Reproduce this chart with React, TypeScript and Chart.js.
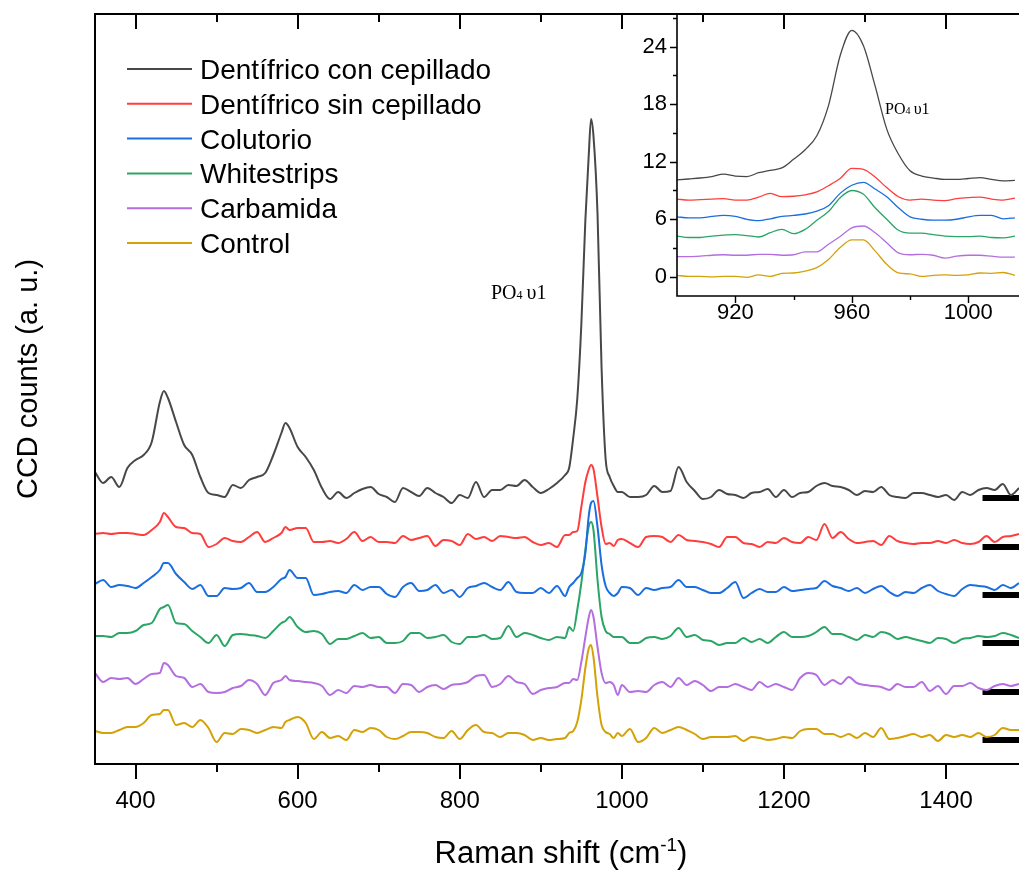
import React, { useEffect, useRef } from 'react';
import { Chart, registerables } from 'chart.js';

Chart.register(...registerables);

const SANS = '"Liberation Sans", Arial, sans-serif';
const SERIF = '"Liberation Serif", "Times New Roman", serif';

// ---------- main spectrum data (Raman shift, cm-1) ----------
const ramanShift = [350,360,370,380,390,400,410,420,430,435,440,450,460,470,480,490,500,510,520,530,540,550,560,570,580,585,590,600,610,620,630,640,650,660,670,680,690,700,710,720,730,740,750,760,770,780,790,800,810,820,830,840,850,860,870,880,890,900,910,920,930,935,940,945,950,955,959,962,965,970,975,980,985,990,995,1000,1010,1020,1030,1040,1050,1060,1070,1080,1090,1100,1110,1120,1130,1140,1150,1160,1170,1180,1190,1200,1210,1220,1230,1240,1250,1260,1270,1280,1290,1300,1310,1320,1330,1340,1350,1360,1370,1380,1390,1400,1410,1420,1430,1440,1450,1460,1470,1480,1490];

const dentConCepillado = [292,281,287,277,296,304,309,322,362,373,366,342,319,309,287,271,269,267,279,276,284,287,291,309,331,341,336,317,307,294,276,265,272,266,271,275,277,270,267,262,276,272,268,276,271,267,261,269,266,282,267,274,274,279,278,284,277,271,275,281,289,296,326,365,439,544,606,645,628,550,396,305,287,278,272,272,267,267,269,278,272,273,297,282,273,265,267,274,270,269,266,271,272,275,267,274,267,271,272,278,281,278,277,274,269,273,272,277,269,267,266,271,271,269,267,269,264,272,269,274,276,274,280,269,276];
const dentSinCepillado = [230,231,230,231,231,230,229,234,242,251,247,237,236,231,230,217,220,226,223,222,227,232,222,226,231,237,234,236,236,222,222,223,221,225,232,223,227,222,222,221,228,224,226,228,218,224,223,219,230,225,227,223,228,227,226,227,222,219,221,217,229,229,232,233,257,282,294,299,295,267,237,220,221,218,224,225,221,217,227,228,227,222,229,224,223,222,220,217,227,227,221,220,217,222,221,226,222,221,227,224,240,226,232,225,221,222,223,219,228,223,221,220,221,221,223,221,224,221,220,222,228,222,227,228,230];
const colutorio = [180,184,177,179,178,176,181,187,194,201,201,190,182,175,179,168,168,176,175,176,181,172,172,177,185,187,194,186,186,169,170,172,173,171,179,174,177,177,170,167,177,181,173,174,179,171,174,167,176,178,181,177,174,182,172,171,171,176,171,178,168,177,181,186,191,211,247,261,263,237,199,178,171,168,171,177,176,169,176,174,176,177,184,177,177,174,171,171,176,182,166,171,175,172,172,177,173,174,175,176,183,178,176,173,176,171,175,178,172,168,172,171,176,179,173,170,168,175,179,178,177,174,179,176,181];
const whitestrips = [128,128,127,131,131,133,139,141,155,157,159,141,140,133,127,121,129,118,129,130,129,128,126,133,141,143,147,137,132,133,130,120,125,125,128,131,126,127,121,121,123,131,131,126,127,129,122,120,127,127,129,125,126,138,127,131,129,126,124,127,126,137,133,154,181,214,237,242,234,184,147,133,130,127,127,127,121,121,126,127,125,128,136,127,129,124,123,119,121,121,126,122,125,121,127,132,127,127,128,132,137,130,130,127,124,129,127,132,130,125,127,125,123,121,126,125,121,125,126,128,127,128,131,129,126];
const carbamida = [91,82,86,85,86,80,85,90,91,101,99,88,86,77,80,72,71,72,76,78,84,80,69,81,84,88,84,83,82,81,78,69,74,71,78,77,79,77,77,71,80,79,72,77,79,75,79,80,82,88,89,77,80,88,82,80,70,74,76,77,81,81,85,84,102,127,146,154,147,117,91,81,82,79,69,79,72,73,72,79,82,77,86,79,83,79,73,77,77,80,77,74,82,77,80,77,74,86,91,89,79,84,80,87,81,79,78,77,74,80,77,77,82,73,78,70,78,78,81,76,74,78,80,78,80];
const control = [33,31,31,34,37,37,41,49,50,54,54,39,41,37,44,36,22,31,30,35,34,31,34,37,36,42,44,47,41,25,32,26,28,24,34,32,36,34,27,25,28,32,32,31,27,26,33,25,34,39,32,31,27,31,31,29,24,26,24,25,26,31,33,42,64,96,115,119,107,67,39,32,30,26,31,28,35,22,26,36,31,34,37,34,30,25,27,27,27,28,23,27,26,24,25,27,26,33,35,35,30,30,27,30,26,31,27,36,25,26,28,30,27,29,23,29,27,29,27,31,27,29,36,34,34];

const seriesNames = ['Dentífrico con cepillado', 'Dentífrico sin cepillado', 'Colutorio', 'Whitestrips', 'Carbamida', 'Control'];
const seriesColors = ['#484848', '#ff3d3d', '#1a6ee0', '#2aa565', '#b36ee0', '#d4a106'];
const mainSeries = [dentConCepillado, dentSinCepillado, colutorio, whitestrips, carbamida, control];

// baseline marks at the right edge
const baselineLevels = [266, 217, 169, 121, 72, 24];
const baselineSpan = [1445, 1500];

const mainMajorTicks = [400, 600, 800, 1000, 1200, 1400];
const mainMinorTicks = [500, 700, 900, 1100, 1300];

// ---------- inset data ----------
const insetShift = [900,904,908,912,916,920,924,928,932,936,940,944,948,952,956,960,964,968,972,976,980,984,988,992,996,1000,1004,1008,1012,1016];
const insetDentCon = [10.1,10.2,10.3,10.45,10.7,10.5,10.45,10.85,11.1,11.35,12.25,13.25,14.7,17.85,23.05,25.7,24.1,19.9,15.4,12.8,11.05,10.5,10.3,10.15,10.15,10.25,10.35,10.15,10.0,10.05];
const insetDentSin = [8.1,8.0,8.05,8.1,8.15,8.0,8.0,8.3,8.7,8.35,8.4,8.55,8.85,9.5,10.25,11.3,11.2,10.4,9.3,8.35,8.0,8.1,8.0,7.95,8.15,8.25,8.3,8.1,8.0,8.2];
const insetColutorio = [6.25,6.15,6.15,6.3,6.4,6.3,6.0,5.85,6.05,6.3,6.4,6.55,6.85,7.4,8.7,9.55,9.85,9.15,8.35,7.2,6.25,6.0,5.9,5.9,6.0,6.25,6.4,6.4,6.05,6.15];
const insetWhitestrips = [4.25,4.1,4.1,4.25,4.35,4.4,4.3,4.15,4.6,4.95,4.5,4.95,5.9,6.8,8.25,9.0,8.6,7.2,6.0,4.85,4.55,4.55,4.4,4.25,4.2,4.2,4.25,4.1,4.05,4.25];
const insetCarbamida = [2.1,2.1,2.15,2.25,2.3,2.25,2.25,2.35,2.35,2.25,2.3,2.6,2.6,3.4,4.2,5.1,5.3,4.6,3.55,2.5,2.3,2.35,2.25,1.95,2.15,2.25,2.25,2.15,2.05,2.05];
const insetControl = [0.15,0.05,0.05,0.0,0.05,0.05,-0.05,0.2,0.05,0.35,0.4,0.6,0.95,1.8,3.05,3.85,3.85,2.7,1.3,0.4,0.3,0.05,0.15,0.2,0.15,0.2,0.4,0.35,0.45,0.15];
const insetSeries = [insetDentCon, insetDentSin, insetColutorio, insetWhitestrips, insetCarbamida, insetControl];

const insetYMajor = [0, 6, 12, 18, 24];
const insetYMinor = [3, 9, 15, 21, 27];
const insetXMajor = [920, 960, 1000];
const insetXMinor = [940, 980];

function drawPO4(ctx: CanvasRenderingContext2D, x: number, y: number, size: number) {
  ctx.fillStyle = '#000';
  ctx.textAlign = 'left';
  ctx.textBaseline = 'alphabetic';
  ctx.font = `${size}px ${SERIF}`;
  ctx.fillText('PO', x, y);
  let cx = x + ctx.measureText('PO').width;
  ctx.font = `${Math.round(size * 0.62)}px ${SERIF}`;
  ctx.fillText('4', cx, y);
  cx += ctx.measureText('4').width + size * 0.2;
  ctx.font = `${size}px ${SERIF}`;
  ctx.fillText('υ1', cx, y);
}

const mainDecor = {
  id: 'mainDecor',
  afterDatasetsDraw(chart: any) {
    const { ctx, chartArea: a, scales } = chart;
    const x = scales.x;
    ctx.save();
    ctx.strokeStyle = '#000';
    ctx.lineWidth = 2;
    ctx.lineCap = 'butt';
    ctx.beginPath();
    ctx.moveTo(a.left - 1, a.top);
    ctx.lineTo(a.right, a.top);
    ctx.moveTo(a.left, a.top);
    ctx.lineTo(a.left, a.bottom + 1);
    ctx.moveTo(a.left - 1, a.bottom);
    ctx.lineTo(a.right, a.bottom);
    ctx.stroke();
    ctx.beginPath();
    for (const v of mainMajorTicks) {
      const px = Math.round(x.getPixelForValue(v));
      ctx.moveTo(px, a.top);
      ctx.lineTo(px, a.top + 15);
      ctx.moveTo(px, a.bottom);
      ctx.lineTo(px, a.bottom + 15);
    }
    for (const v of mainMinorTicks) {
      const px = Math.round(x.getPixelForValue(v));
      ctx.moveTo(px, a.top);
      ctx.lineTo(px, a.top + 8);
      ctx.moveTo(px, a.bottom);
      ctx.lineTo(px, a.bottom + 8);
    }
    ctx.stroke();

    // legend
    seriesNames.forEach((name, i) => {
      const ly = 69 + i * 34.8;
      ctx.strokeStyle = seriesColors[i];
      ctx.lineWidth = 2;
      ctx.beginPath();
      ctx.moveTo(127, ly);
      ctx.lineTo(192, ly);
      ctx.stroke();
      ctx.fillStyle = '#000';
      ctx.font = `28px ${SANS}`;
      ctx.textAlign = 'left';
      ctx.textBaseline = 'alphabetic';
      ctx.fillText(name, 200, ly + 10);
    });

    // x axis title with superscript
    ctx.fillStyle = '#000';
    ctx.textBaseline = 'alphabetic';
    ctx.textAlign = 'left';
    const big = `31px ${SANS}`;
    const small = `19px ${SANS}`;
    ctx.font = big;
    const w1 = ctx.measureText('Raman shift (cm').width;
    const w3 = ctx.measureText(')').width;
    ctx.font = small;
    const w2 = ctx.measureText('-1').width;
    const total = w1 + w2 + w3;
    let tx = 561 - total / 2;
    const ty = 863;
    ctx.font = big;
    ctx.fillText('Raman shift (cm', tx, ty);
    tx += w1;
    ctx.font = small;
    ctx.fillText('-1', tx, ty - 12);
    tx += w2;
    ctx.font = big;
    ctx.fillText(')', tx, ty);

    // y axis title
    ctx.save();
    ctx.translate(37, 379);
    ctx.rotate(-Math.PI / 2);
    ctx.font = `29px ${SANS}`;
    ctx.textAlign = 'center';
    ctx.textBaseline = 'alphabetic';
    ctx.fillText('CCD counts (a. u.)', 0, 0);
    ctx.restore();

    // annotation
    drawPO4(ctx, 491, 299, 20);
    ctx.restore();
  },
};

const insetDecor = {
  id: 'insetDecor',
  afterDatasetsDraw(chart: any) {
    const { ctx, chartArea: a, scales } = chart;
    const x = scales.x;
    const y = scales.y;
    ctx.save();
    ctx.strokeStyle = '#000';
    ctx.lineWidth = 1.6;
    ctx.beginPath();
    ctx.moveTo(a.left, a.top);
    ctx.lineTo(a.left, a.bottom);
    ctx.lineTo(a.right, a.bottom);
    ctx.stroke();
    ctx.lineWidth = 1.4;
    ctx.beginPath();
    for (const v of insetYMajor) {
      const py = Math.round(y.getPixelForValue(v)) + 0.5;
      ctx.moveTo(a.left, py);
      ctx.lineTo(a.left - 7, py);
    }
    for (const v of insetYMinor) {
      const py = Math.round(y.getPixelForValue(v)) + 0.5;
      ctx.moveTo(a.left, py);
      ctx.lineTo(a.left - 4, py);
    }
    for (const v of insetXMajor) {
      const px = Math.round(x.getPixelForValue(v)) + 0.5;
      ctx.moveTo(px, a.bottom);
      ctx.lineTo(px, a.bottom + 7);
    }
    for (const v of insetXMinor) {
      const px = Math.round(x.getPixelForValue(v)) + 0.5;
      ctx.moveTo(px, a.bottom);
      ctx.lineTo(px, a.bottom + 4);
    }
    ctx.stroke();
    drawPO4(ctx, 265, 114, 16);
    ctx.restore();
  },
};

export default function App() {
  const mainRef = useRef<HTMLCanvasElement>(null);
  const insetRef = useRef<HTMLCanvasElement>(null);

  useEffect(() => {
    const mainDatasets: any[] = mainSeries.map((vals, i) => ({
      label: seriesNames[i],
      data: ramanShift.map((xv, j) => ({ x: xv, y: vals[j] })),
      borderColor: seriesColors[i],
      borderWidth: 2,
      pointRadius: 0,
      cubicInterpolationMode: 'monotone',
      fill: false,
    }));
    baselineLevels.forEach((lv) => {
      mainDatasets.push({
        label: '',
        data: baselineSpan.map((xv) => ({ x: xv, y: lv })),
        borderColor: '#000',
        borderWidth: 6,
        borderCapStyle: 'butt',
        pointRadius: 0,
        fill: false,
      });
    });

    const main = new Chart(mainRef.current as HTMLCanvasElement, {
      type: 'line',
      data: { datasets: mainDatasets },
      options: {
        responsive: false,
        animation: false,
        devicePixelRatio: 1,
        layout: { padding: { left: 95, top: 14, right: 0, bottom: 0 } },
        plugins: { legend: { display: false }, tooltip: { enabled: false } },
        scales: {
          x: {
            type: 'linear',
            position: 'bottom',
            min: 350,
            max: 1490,
            grid: { display: false, drawTicks: false },
            border: { display: false },
            ticks: {
              stepSize: 200,
              includeBounds: false,
              autoSkip: false,
              maxRotation: 0,
              padding: 23,
              color: '#000',
              font: { family: SANS, size: 24 },
              callback: (v: any) => String(v),
            },
            afterFit: (s: any) => { s.height = 108; s.paddingLeft = 0; s.paddingRight = 0; },
          },
          y: { display: false, min: 0, max: 750 },
        },
      } as any,
      plugins: [mainDecor],
    });

    const inset = new Chart(insetRef.current as HTMLCanvasElement, {
      type: 'line',
      data: {
        datasets: insetSeries.map((vals, i) => ({
          label: seriesNames[i],
          data: insetShift.map((xv, j) => ({ x: xv, y: vals[j] })),
          borderColor: seriesColors[i],
          borderWidth: 1.3,
          pointRadius: 0,
          cubicInterpolationMode: 'monotone',
          fill: false,
        })),
      },
      options: {
        responsive: false,
        animation: false,
        devicePixelRatio: 1,
        layout: { padding: { left: 0, top: 14, right: 0, bottom: 0 } },
        plugins: { legend: { display: false }, tooltip: { enabled: false } },
        scales: {
          x: {
            type: 'linear',
            position: 'bottom',
            min: 900,
            max: 1017.4,
            grid: { display: false, drawTicks: false },
            border: { display: false },
            ticks: {
              stepSize: 40,
              includeBounds: false,
              autoSkip: false,
              maxRotation: 0,
              padding: 4,
              color: '#000',
              font: { family: SANS, size: 22 },
              callback: (v: any) => String(v),
            },
            afterFit: (s: any) => { s.height = 44; s.paddingLeft = 0; s.paddingRight = 0; },
          },
          y: {
            type: 'linear',
            position: 'left',
            min: -2,
            max: 27.4,
            grid: { display: false, drawTicks: false },
            border: { display: false },
            ticks: {
              stepSize: 6,
              includeBounds: false,
              autoSkip: false,
              padding: 10,
              color: '#000',
              font: { family: SANS, size: 22 },
              callback: (v: any) => String(v),
            },
            afterFit: (s: any) => { s.width = 57; s.paddingTop = 0; s.paddingBottom = 0; },
          },
        },
      } as any,
      plugins: [insetDecor],
    });

    return () => {
      main.destroy();
      inset.destroy();
    };
  }, []);

  return (
    <div style={{ position: 'fixed', left: 0, top: 0, width: 1019, height: 872, background: '#fff', overflow: 'hidden' }}>
      <canvas ref={mainRef} width={1019} height={872} style={{ position: 'absolute', left: 0, top: 0, width: 1019, height: 872 }} />
      <canvas ref={insetRef} width={399} height={340} style={{ position: 'absolute', left: 620, top: 0, width: 399, height: 340 }} />
    </div>
  );
}
